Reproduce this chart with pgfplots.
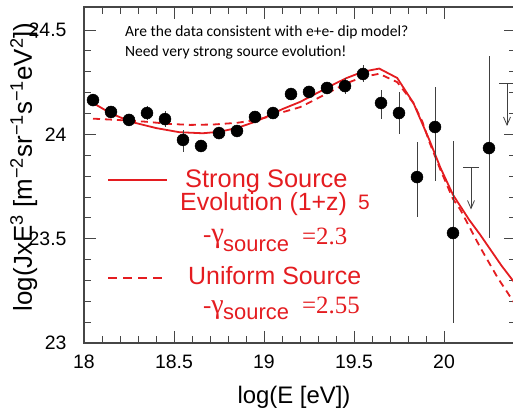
\documentclass[border=0pt]{standalone}
\usepackage{fontspec}
\setmainfont{Liberation Sans}
\newfontfamily\tnr{Liberation Serif}
\newfontfamily\calibri{Carlito}
\usepackage{pgfplots}
\pgfplotsset{compat=1.18}
\usetikzlibrary{arrows.meta}
\definecolor{cred}{RGB}{228,28,32}
\definecolor{axgray}{RGB}{70,70,70}
\begin{document}
\begin{tikzpicture}
\useasboundingbox (-84bp,-73bp) rectangle (429bp,343bp);
\begin{axis}[
  scale only axis, width=432bp, height=336bp,
  xmin=18, xmax=20.4, ymin=23, ymax=24.61,
  xtick={18,18.5,19,19.5,20},
  ytick={23,23.5,24,24.5},
  minor x tick num=4, minor y tick num=4,
  tick align=inside,
  major tick length=12bp, minor tick length=7bp,
  axis line style={axgray, line width=1.2bp},
  every tick/.style={axgray, line width=0.8bp},
  /pgf/number format/assume math mode=true,
  ticklabel style={font=\fontsize{19.5}{22}\selectfont},
  xticklabel style={yshift=-8bp},
  yticklabel style={xshift=-14bp},
  xlabel={log(E [eV])},
  xlabel style={font=\fontsize{24}{28}\selectfont, at={(axis description cs:0.4861,-0.1815)}, anchor=base},
  ylabel={log(JxE\textsuperscript{3} [m\textsuperscript{−2}sr\textsuperscript{−1}s\textsuperscript{−1}eV\textsuperscript{2}])},
  ylabel style={font=\fontsize{26}{30}\selectfont, at={(axis description cs:-0.1204,0.5238)}, anchor=base, rotate=0},
]
% strong source evolution (solid)
\addplot[cred, line width=1.8bp, no marks] coordinates {
(18.05,24.15) (18.15,24.10) (18.26,24.06) (18.40,24.03) (18.53,24.01) (18.66,24.005)
(18.75,24.012) (18.85,24.03) (18.95,24.06) (19.03,24.09) (19.10,24.12) (19.20,24.155)
(19.30,24.20) (19.40,24.245) (19.46,24.27) (19.55,24.30) (19.64,24.315) (19.74,24.27)
(19.83,24.15) (19.87,24.07) (19.92,23.97) (19.98,23.84) (20.05,23.71) (20.14,23.59)
(20.20,23.52) (20.26,23.445) (20.32,23.37) (20.40,23.28)
};
% uniform source (dashed)
\addplot[cred, line width=1.8bp, no marks, dash pattern=on 7bp off 5bp] coordinates {
(18.05,24.075) (18.20,24.068) (18.35,24.06) (18.47,24.05) (18.59,24.045) (18.72,24.047)
(18.85,24.055) (18.95,24.068) (19.03,24.085) (19.10,24.105) (19.20,24.13) (19.27,24.16)
(19.37,24.205) (19.46,24.245) (19.55,24.275) (19.64,24.29) (19.74,24.25) (19.83,24.15)
(19.88,24.06) (19.92,23.96) (19.98,23.83) (20.05,23.69) (20.09,23.64) (20.20,23.46)
(20.30,23.31) (20.40,23.18)
};
% data points with error bars
\addplot[only marks, mark=*, mark size=6bp, black,
  error bars/.cd, y dir=both, y explicit, error mark=none,
  error bar style={black!75, line width=0.8bp}]
table[x=x, y=y, y error plus=ep, y error minus=em] {
x y ep em
18.05 24.164 0.01 0.01
18.15 24.107 0.015 0.015
18.25 24.069 0.03 0.03
18.35 24.102 0.035 0.035
18.45 24.073 0.04 0.04
18.55 23.973 0.05 0.06
18.65 23.944 0.01 0.01
18.75 24.006 0.01 0.01
18.85 24.016 0.01 0.01
18.95 24.083 0.01 0.01
19.05 24.102 0.01 0.01
19.15 24.193 0.015 0.015
19.25 24.203 0.02 0.02
19.35 24.222 0.03 0.03
19.45 24.231 0.04 0.04
19.55 24.289 0.045 0.04
19.65 24.150 0.062 0.077
19.75 24.102 0.10 0.10
19.85 23.795 0.168 0.191
19.95 24.035 0.19 0.26
20.05 23.527 0.44 0.43
20.25 23.934 0.44 0.43
};
% upper limits
\addplot[only marks, mark=-, mark size=8bp, black!75, mark options={line width=0.8bp}]
coordinates {(20.15,23.84) (20.35,24.245)};
\addplot[black!75, line width=0.8bp, no marks, quiver={u=0, v=\thisrow{v}},
  -{Straight Barb[length=8bp, width=7bp]}] table {
x y v
20.15 23.84 -0.20
20.35 24.245 -0.205
};
\end{axis}
% annotation
\node[anchor=base west, inner sep=0, font=\calibri\fontsize{15.6}{18}\selectfont] at (41bp,306bp) {Are the data consistent with e+e- dip model?};
\node[anchor=base west, inner sep=0, font=\calibri\fontsize{15.6}{18}\selectfont] at (41bp,286bp) {Need very strong source evolution!};
% legend
\draw[cred, line width=1.8bp] (24bp,163bp) -- (83bp,163bp);
\draw[cred, line width=1.8bp, dash pattern=on 9bp off 6bp] (24bp,65bp) -- (81bp,65bp);
\begin{scope}[every node/.style={anchor=base west, inner sep=0, text=cred}]
\node[font=\fontsize{25.5}{30}\selectfont] at (101bp,155bp) {Strong Source};
\node[font=\fontsize{25}{30}\selectfont] at (96bp,132bp) {Evolution (1+z)};
\node[font=\fontsize{21}{25}\selectfont] at (274bp,133bp) {5};
\node[font=\tnr\fontsize{25}{30}\selectfont] at (119bp,100bp) {-\fontsize{29}{32}\selectfont γ};
\node[font=\fontsize{22}{26}\selectfont] at (139bp,91bp) {source};
\node[font=\tnr\fontsize{25}{30}\selectfont] at (218bp,98bp) {=2.3};
\node[font=\fontsize{25}{30}\selectfont] at (104bp,58bp) {Uniform Source};
\node[font=\tnr\fontsize{25}{30}\selectfont] at (119bp,30bp) {-\fontsize{28}{31}\selectfont γ};
\node[font=\fontsize{22}{26}\selectfont] at (139bp,24bp) {source};
\node[font=\tnr\fontsize{25}{30}\selectfont] at (218bp,30bp) {=2.55};
\end{scope}
\end{tikzpicture}
\end{document}
